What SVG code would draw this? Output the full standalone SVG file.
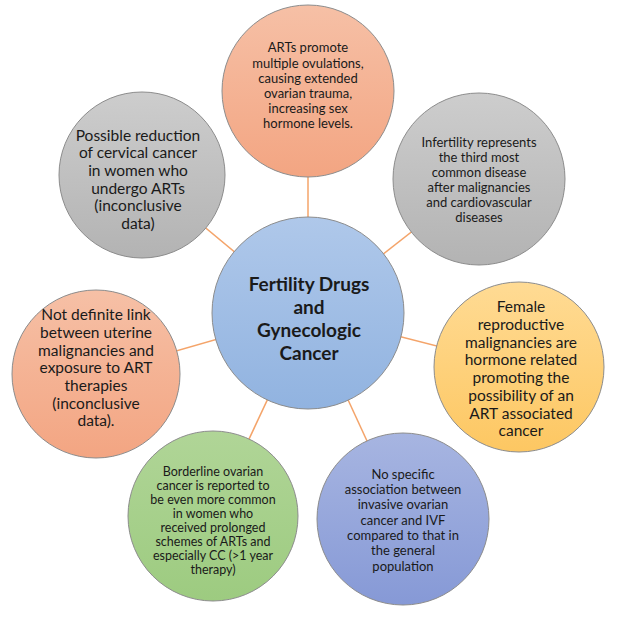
<svg xmlns="http://www.w3.org/2000/svg" width="620" height="622" viewBox="0 0 620 622">
<defs>
<linearGradient id="gSalmon" x1="0" y1="0" x2="0" y2="1"><stop offset="0" stop-color="#F6C0A6"/><stop offset="1" stop-color="#F3A582"/></linearGradient>
<linearGradient id="gGray" x1="0" y1="0" x2="0" y2="1"><stop offset="0" stop-color="#CDCDCD"/><stop offset="1" stop-color="#B3B3B3"/></linearGradient>
<linearGradient id="gBlue" x1="0" y1="0" x2="0" y2="1"><stop offset="0" stop-color="#AFC8EA"/><stop offset="1" stop-color="#91B3E0"/></linearGradient>
<linearGradient id="gYellow" x1="0" y1="0" x2="0" y2="1"><stop offset="0" stop-color="#FFDB94"/><stop offset="1" stop-color="#FDC762"/></linearGradient>
<linearGradient id="gGreen" x1="0" y1="0" x2="0" y2="1"><stop offset="0" stop-color="#B0D597"/><stop offset="1" stop-color="#9DCB80"/></linearGradient>
<linearGradient id="gIndigo" x1="0" y1="0" x2="0" y2="1"><stop offset="0" stop-color="#A7B5E1"/><stop offset="1" stop-color="#8699D6"/></linearGradient>
</defs>
<style>
circle{stroke:#8C8C8C;stroke-width:1}
text{font-family:Lato,"Open Sans","Liberation Sans",sans-serif;fill:#1a1a1a;text-anchor:middle}
.s13{font-size:13px}
.s12{font-size:12.5px}
.s16{font-size:15.5px}
.c{font-size:19px;font-weight:bold}
.conn line{stroke:#F4A46A;stroke-width:1.5}
</style>
<rect width="620" height="622" fill="#ffffff"/>
<g class="conn" id="connectors">
<line x1="308" y1="313" x2="308" y2="91"/>
<line x1="308" y1="313" x2="142" y2="175"/>
<line x1="308" y1="313" x2="479" y2="179"/>
<line x1="308" y1="313" x2="96" y2="374"/>
<line x1="308" y1="313" x2="519" y2="367"/>
<line x1="308" y1="313" x2="213" y2="516"/>
<line x1="308" y1="313" x2="403" y2="519"/>
</g>
<g id="n-top">
<circle cx="308" cy="91" r="86" fill="url(#gSalmon)"/>
<text class="s13"><tspan x="308" y="52">ARTs promote</tspan><tspan x="308" y="67.5">multiple ovulations,</tspan><tspan x="308" y="83">causing extended</tspan><tspan x="308" y="98">ovarian trauma,</tspan><tspan x="308" y="113">increasing sex</tspan><tspan x="308" y="128">hormone levels.</tspan></text>
</g>
<g id="n-topleft">
<circle cx="142" cy="175" r="83" fill="url(#gGray)"/>
<text class="s16"><tspan x="138" y="140.5">Possible reduction</tspan><tspan x="138" y="158">of cervical cancer</tspan><tspan x="138" y="176">in women who</tspan><tspan x="138" y="193.5">undergo ARTs</tspan><tspan x="138" y="211">(inconclusive</tspan><tspan x="138" y="228.5">data)</tspan></text>
</g>
<g id="n-topright">
<circle cx="479" cy="179" r="86" fill="url(#gGray)"/>
<text class="s13"><tspan x="479" y="146.5">Infertility represents</tspan><tspan x="479" y="161.5">the third most</tspan><tspan x="479" y="176.5">common disease</tspan><tspan x="479" y="191.5">after malignancies</tspan><tspan x="479" y="206.5">and cardiovascular</tspan><tspan x="479" y="221.5">diseases</tspan></text>
</g>
<g id="n-center">
<circle cx="308" cy="313" r="96" fill="url(#gBlue)"/>
<text class="c"><tspan x="309" y="291">Fertility Drugs</tspan><tspan x="309" y="314">and</tspan><tspan x="309" y="337">Gynecologic</tspan><tspan x="309" y="360">Cancer</tspan></text>
</g>
<g id="n-left">
<circle cx="96" cy="374" r="84" fill="url(#gSalmon)"/>
<text class="s16"><tspan x="96" y="319.5">Not definite link</tspan><tspan x="96" y="337.5">between uterine</tspan><tspan x="96" y="355.5">malignancies and</tspan><tspan x="96" y="373">exposure to ART</tspan><tspan x="96" y="391">therapies</tspan><tspan x="96" y="408.5">(inconclusive</tspan><tspan x="96" y="426">data).</tspan></text>
</g>
<g id="n-right">
<circle cx="519" cy="367" r="85" fill="url(#gYellow)"/>
<text class="s16"><tspan x="521" y="311.5">Female</tspan><tspan x="521" y="329.5">reproductive</tspan><tspan x="521" y="347.5">malignancies are</tspan><tspan x="521" y="365">hormone related</tspan><tspan x="521" y="383">promoting the</tspan><tspan x="521" y="401">possibility of an</tspan><tspan x="521" y="418.5">ART associated</tspan><tspan x="521" y="436">cancer</tspan></text>
</g>
<g id="n-bottomleft">
<circle cx="213" cy="516" r="85" fill="url(#gGreen)"/>
<text class="s12"><tspan x="213" y="475.5">Borderline ovarian</tspan><tspan x="213" y="489.5">cancer is reported to</tspan><tspan x="213" y="503.5">be even more common</tspan><tspan x="213" y="517.5">in women who</tspan><tspan x="213" y="531.5">received prolonged</tspan><tspan x="213" y="545.5">schemes of ARTs and</tspan><tspan x="213" y="559.5">especially CC (&gt;1 year</tspan><tspan x="213" y="573.5">therapy)</tspan></text>
</g>
<g id="n-bottomright">
<circle cx="403" cy="519" r="86" fill="url(#gIndigo)"/>
<text class="s13"><tspan x="403" y="478.5">No specific</tspan><tspan x="403" y="494">association between</tspan><tspan x="403" y="509">invasive ovarian</tspan><tspan x="403" y="524.5">cancer and IVF</tspan><tspan x="403" y="540">compared to that in</tspan><tspan x="403" y="555">the general</tspan><tspan x="403" y="570.5">population</tspan></text>
</g>
</svg>
